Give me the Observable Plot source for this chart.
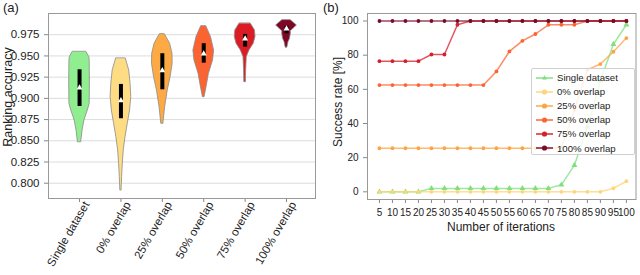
<!DOCTYPE html>
<html>
<head>
<meta charset="utf-8">
<script src="https://cdn.jsdelivr.net/npm/d3@7"></script>
<script src="https://cdn.jsdelivr.net/npm/@observablehq/plot@0.6"></script>
<style>
  body { margin: 0; background: #fff; }
  #wrap { position: relative; width: 640px; height: 275px; font-family: "Liberation Sans", Arial, sans-serif; color: #222; overflow: hidden; }
  .panel { position: absolute; top: 0; }
  .tag { position: absolute; top: 0px; font-size: 13px; line-height: 16px; }
  .alabel { position: absolute; font-size: 12px; line-height: 14px; white-space: nowrap; transform: translate(-50%, -50%); }
  .vlabel { position: absolute; white-space: nowrap; writing-mode: vertical-rl; transform: translate(-50%, -50%) rotate(180deg); line-height: 14px; }
  #legend { position: absolute; left: 531px; top: 68px; width: 104px; height: 87px; box-sizing: border-box;
            background: rgba(255,255,255,0.8); border: 1px solid #cfcfcf; border-radius: 2px; }
  .lrow { position: absolute; left: 0; height: 14px; display: flex; align-items: center; font-size: 9.6px; white-space: nowrap; }
  .lrow svg { margin-left: 4px; margin-right: 4px; }
</style>
</head>
<body>
<div id="wrap">
  <div id="pa" class="panel" style="left:0"></div>
  <div id="pb" class="panel" style="left:320px"></div>
  <div class="tag" style="left:3px">(a)</div>
  <div class="tag" style="left:323px">(b)</div>
  <div class="vlabel" style="left:8px; top:97px; font-size:12.5px">Ranking accuracy</div>
  <div class="vlabel" style="left:338px; top:102px; font-size:12px">Success rate [%]</div>
  <div class="alabel" style="left:501px; top:227px">Number of iterations</div>
  <div id="legend"></div>
</div>
<script>
// ---------- Panel (a) data ----------
const categories = ["Single dataset", "0% overlap", "25% overlap", "50% overlap", "75% overlap", "100% overlap"];
const violinColors = ["#90ee90", "#fedc84", "#fdaa45", "#fb6331", "#dc1c24", "#7d0725"];
const accuracyTicks = [0.800, 0.825, 0.850, 0.875, 0.900, 0.925, 0.950, 0.975];

// violin profiles: [accuracy, relative density]
const profileSingle = [[0.9545,0.67],[0.9486,0.94],[0.9447,0.98],[0.919,1.0],[0.8936,0.98],[0.8857,0.8],[0.8739,0.47],[0.8621,0.29],[0.8483,0.16]];
const profile0 = [[0.9467,0.47],[0.9329,0.8],[0.9172,0.93],[0.9014,1.0],[0.8857,0.88],[0.870,0.66],[0.8542,0.44],[0.8386,0.27],[0.8229,0.18],[0.8071,0.11],[0.7914,0.06]];
const profile25 = [[0.9754,0.25],[0.9644,0.75],[0.9526,0.98],[0.9408,1.0],[0.925,0.8],[0.9093,0.52],[0.8896,0.27],[0.870,0.1]];
const profile50 = [[0.9848,0.25],[0.9722,0.7],[0.9565,1.0],[0.9447,0.9],[0.929,0.5],[0.9132,0.27],[0.9014,0.08]];
const profile75 = [[0.988,0.55],[0.9801,0.95],[0.9722,1.0],[0.9644,0.83],[0.9565,0.42],[0.9486,0.16],[0.9329,0.1],[0.9191,0.08]];
const profile100 = [[0.9919,0.42],[0.986,1.0],[0.9834,0.8],[0.979,0.4],[0.9765,0.42],[0.970,0.33],[0.9663,0.19],[0.9597,0.08]];
const profiles = [profileSingle, profile0, profile25, profile50, profile75, profile100];

const quartile1 = [0.8904, 0.876, 0.9101, 0.9415, 0.9604, 0.9762];
const quartile3 = [0.9337, 0.9164, 0.9526, 0.9644, 0.9754, 0.9848];
const medians   = [0.9125, 0.8975, 0.9329, 0.9526, 0.9703, 0.9821];

// ---------- Panel (b) data ----------
const iterations = [5,10,15,20,25,30,35,40,45,50,55,60,65,70,75,80,85,90,95,100];
const seriesNames = ["Single dataset", "0% overlap", "25% overlap", "50% overlap", "75% overlap", "100% overlap"];
const lineColors = ["#7fe07f", "#fed57a", "#fca447", "#fb6331", "#d61f29", "#7a0a2a"];
const rateSingle = [0,0,0,0,2,2,2,2,2,2,2,2,2,2,4.1,15.6,38,65,86.4,97.8];
const rate0      = [0,0,0,0,0,0,0,0,0,0,0,0,0,0,0,0,0,0,2.1,6.2];
const rate25     = [25.5,25.5,25.5,25.5,25.5,25.5,25.5,25.5,25.5,25.5,25.5,25.5,25.5,25.5,26,48,71.5,74.8,82,90];
const rate50     = [62.5,62.5,62.5,62.5,62.5,62.5,62.5,62.5,62.5,70.5,82.2,88.4,92.4,97.8,97.8,97.8,100,100,100,100];
const rate75     = [76.5,76.5,76.5,76.5,80.4,80.4,97.8,100,100,100,100,100,100,100,100,100,100,100,100,100];
const rate100    = [100,100,100,100,100,100,100,100,100,100,100,100,100,100,100,100,100,100,100,100];
const rates = [rateSingle, rate0, rate25, rate50, rate75, rate100];
const rateTicks = [0, 20, 40, 60, 80, 100];

// ---------- build tables ----------
const violinRows = profiles.flatMap((p, i) => p.map(([v, w]) => ({i, cat: categories[i], v, w})));
const boxRows = categories.map((cat, i) => ({i, cat, q1: quartile1[i], q3: quartile3[i], median: medians[i]}));
const halfWidth = 0.25;

const FONT = '"Liberation Sans", Arial, sans-serif';
const baseStyle = {fontFamily: FONT, color: "#222", background: "transparent", overflow: "visible"};

const plotA = Plot.plot({
  width: 320, height: 275,
  marginLeft: 48, marginRight: 5, marginTop: 13, marginBottom: 77,
  style: {...baseStyle, fontSize: "11.5px"},
  x: {type: "linear", domain: [-0.75, 5.70]},
  y: {domain: [0.782, 1.0]},
  color: {domain: categories, range: violinColors},
  marks: [
    Plot.gridY(accuracyTicks, {stroke: "#dcdcdc", strokeOpacity: 1, strokeWidth: 1}),
    Plot.areaX(violinRows, {y: "v", x1: d => d.i - d.w * halfWidth, x2: d => d.i + d.w * halfWidth, z: "cat", fill: "cat", stroke: "#8a8a8a", strokeWidth: 0.8}),
    Plot.ruleX(boxRows, {x: "i", y1: "q1", y2: "q3", stroke: "black", strokeWidth: 4}),
    Plot.dot(boxRows, {x: "i", y: "median", symbol: "triangle", r: 2.2, fill: "white", stroke: null}),
    Plot.axisY({ticks: accuracyTicks, tickFormat: d3.format(".3f"), tickSize: 4, stroke: "#888", fill: "#222", label: null, fontSize: 11.5, fontFamily: FONT}),
    Plot.axisX({ticks: d3.range(categories.length), tickFormat: () => "", tickSize: 4, stroke: "#888", label: null}),
    Plot.axisX({ticks: d3.range(categories.length), tickFormat: i => categories[i], tickRotate: -60, tickSize: 0, tickPadding: 6, dx: 7, dy: -2, fill: "#222", label: null, fontSize: 11.5, fontFamily: FONT}),
    Plot.frame({stroke: "#999"})
  ]
});
document.getElementById("pa").appendChild(plotA);

const lineRows = seriesNames.flatMap((s, k) => iterations.map((it, j) => ({series: s, k, it, rate: rates[k][j]})));

const bMarks = [];
seriesNames.forEach((s, k) => {
  const rows = lineRows.filter(d => d.k === k);
  bMarks.push(Plot.line(rows, {x: "it", y: "rate", stroke: "series", strokeWidth: 1.5, strokeOpacity: 0.75}));
  bMarks.push(Plot.dot(rows, {x: "it", y: "rate", fill: "series", r: k === 0 ? 2.2 : 1.9, symbol: k === 0 ? "triangle" : "circle", stroke: null}));
});

const plotB = Plot.plot({
  width: 320, height: 275,
  marginLeft: 47, marginRight: 4.5, marginTop: 13, marginBottom: 76,
  style: {...baseStyle, fontSize: "10px"},
  x: {domain: [0.4, 103.7]},
  y: {domain: [-4.5, 104.4]},
  color: {domain: seriesNames, range: lineColors},
  marks: [
    ...bMarks,
    Plot.axisY({ticks: rateTicks, tickSize: 4, stroke: "#888", fill: "#222", label: null, fontSize: 10, fontFamily: FONT}),
    Plot.axisX({ticks: iterations, tickSize: 4, stroke: "#888", fill: "#222", label: null, fontSize: 10, fontFamily: FONT}),
    Plot.frame({stroke: "#999"})
  ]
});
document.getElementById("pb").appendChild(plotB);

// ---------- legend ----------
const legend = document.getElementById("legend");
seriesNames.forEach((s, k) => {
  const row = document.createElement("div");
  row.className = "lrow";
  row.style.top = (1.5 + k * 14.1) + "px";
  const c = lineColors[k];
  const marker = k === 0
    ? `<path d="M8.5,2.2 L11,6.6 L6,6.6 Z" fill="${c}"/>`
    : `<circle cx="8.5" cy="5" r="2.6" fill="${c}"/>`;
  row.innerHTML = `<svg width="17" height="10"><line x1="0" y1="5" x2="17" y2="5" stroke="${c}" stroke-width="1.8" stroke-opacity="0.8"/>${marker}</svg><span>${s}</span>`;
  legend.appendChild(row);
});
</script>
</body>
</html>
